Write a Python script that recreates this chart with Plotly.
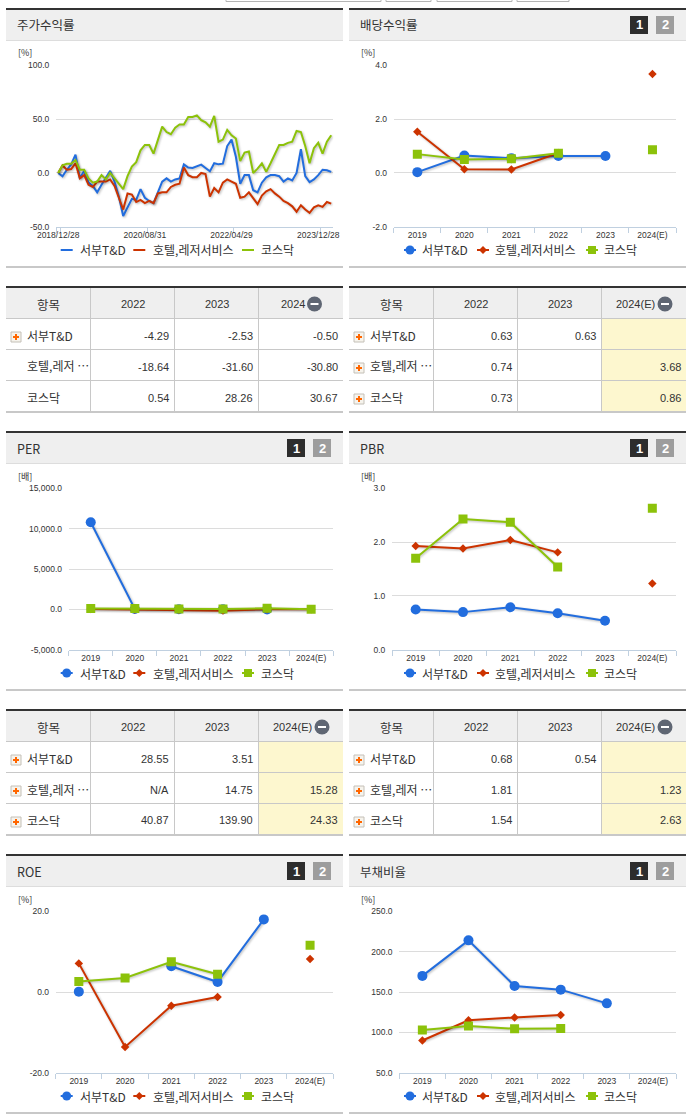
import plotly.graph_objects as go

W, H = 691, 1115
SANS = "Liberation Sans, Noto Sans CJK KR, sans-serif"
KR = "Noto Sans CJK KR, Liberation Sans, sans-serif"
BLUE, RED, GREEN = "#226dde", "#cc3300", "#8cc20a"
TXT = "#333333"

NAMES = ["서부T&D", "호텔,레저서비스", "코스닥"]
YEARS = ["2019", "2020", "2021", "2022", "2023", "2024(E)"]

# 주가수익률 (monthly, 2018/12 ~ 2024/03)
RET_BLUE = [0, -3, 3, 8, 17, -5, 2, -9, -12, -18, -11, -5, 2, -8, -22, -40, -32, -24, -25, -15,
            -23, -26, -28, -18, -8, -5, -8, -6, -5, 8, 5, 4.6, 6, 7.7, 4.6, 1.5, 9, 8, 8.6, 25,
            31, 15, -10, -2, -2, -16, -18, -9, -4, -2, -2, -3, -8, -5, -7, 0, 22, -3, -8.5, -6,
            -2, 3, 2.5, 1]
RET_RED = [0, 7, 3, 3.7, 9, -5, -2, -11, -13, -8, -8, -8, -6, -12, -23, -34, -19, -20, -27, -25,
           -28, -26, -28, -19, -18, -18, -13, -11, -10, 5, -2, -4, -4, 0, -1, -22, -14, -18, -9, -6,
           -8, -10, -23, -22, -18, -24, -29, -21, -17, -15, -19, -22, -26, -28, -31, -36, -30, -34, -37, -32,
           -30, -31.5, -27, -28.5]
RET_GREEN = [0, 7, 8.5, 8.5, 12, 3, 3, -5, -9, -8, -2, -6, 0, -5, -10, -15, -3, 6, 10, 21,
             26, 26, 18, 31, 43, 38, 36, 42, 45, 45, 52, 52, 53.5, 49, 47, 43, 53, 29, 31, 40,
             35, 32, 11, 19, 20, 0, 4, 9, 1, 9, 18, 26, 26, 28, 29, 39, 38, 25, 9, 23,
             28, 18, 29, 35]
RET_TICKS = [0, 20, 40, 60]
RET_LABELS = ["2018/12/28", "2020/08/31", "2022/04/29", "2023/12/28"]

DIV = [[0.03, 0.65, 0.55, 0.63, 0.63, None],
       [1.53, 0.14, 0.13, 0.74, None, 3.68],
       [0.70, 0.50, 0.53, 0.73, None, 0.86]]
PER = [[10800, 50, 30, 28.55, 3.51, None],
       [50, -20, -40, -150, 14.75, 15.28],
       [100, 100, 40, 40.87, 139.90, 24.33]]
PBR = [[0.75, 0.70, 0.79, 0.68, 0.54, None],
       [1.93, 1.88, 2.04, 1.81, None, 1.23],
       [1.70, 2.43, 2.37, 1.54, None, 2.63]]
ROE = [[0.1, None, 6.4, 2.5, 18.0, None],
       [7.1, -13.6, -3.4, -1.2, None, 8.2],
       [2.6, 3.5, 7.5, 4.4, None, 11.6]]
DEBT = [[170, 214, 157.5, 153, 136, None],
        [90, 115, 118.5, 121.5, None, None],
        [103, 108, 104.5, 105, None, None]]

T_RET = [["2022", "2023", "2024"], ["-4.29", "-2.53", "-0.50"], ["-18.64", "-31.60", "-30.80"], ["0.54", "28.26", "30.67"]]
T_DIV = [["2022", "2023", "2024(E)"], ["0.63", "0.63", ""], ["0.74", "", "3.68"], ["0.73", "", "0.86"]]
T_PER = [["2022", "2023", "2024(E)"], ["28.55", "3.51", ""], ["N/A", "14.75", "15.28"], ["40.87", "139.90", "24.33"]]
T_PBR = [["2022", "2023", "2024(E)"], ["0.68", "0.54", ""], ["1.81", "", "1.23"], ["1.54", "", "2.63"]]

fig = go.Figure()
shapes, annos = [], []
fx = lambda x: x / W
fy = lambda y: 1 - y / H


def rect(x0, y0, x1, y1, fill, line=None, kind="rect"):
    shapes.append(dict(type=kind, xref="paper", yref="paper", x0=fx(x0), x1=fx(x1), y0=fy(y0), y1=fy(y1),
                       fillcolor=fill, line=dict(color=line or fill, width=1 if line else 0)))


def text(x, y, s, size=12, color=TXT, anchor="left", font=KR, bold=False):
    annos.append(dict(xref="paper", yref="paper", x=fx(x), y=fy(y), text=f"<b>{s}</b>" if bold else s,
                      showarrow=False, xanchor=anchor, yanchor="middle", borderpad=0,
                      font=dict(size=size, color=color, family=font)))


def header(x0, top, title, buttons=True):
    rect(x0, top, x0 + 337, top + 2, "#333333")
    rect(x0, top + 2, x0 + 337, top + 32, "#efefef")
    rect(x0, top + 32, x0 + 337, top + 33, "#dddddd")
    text(x0 + 10, top + 17, title, size=12.5)
    if buttons:
        rect(x0 + 281, top + 8, x0 + 299, top + 26, "#2d2d2d")
        rect(x0 + 307, top + 8, x0 + 325, top + 26, "#9d9d9d")
        text(x0 + 290, top + 17, "1", size=13, color="#ffffff", anchor="center", font=SANS, bold=True)
        text(x0 + 316, top + 17, "2", size=13, color="#ffffff", anchor="center", font=SANS, bold=True)
    rect(x0, top + 258, x0 + 337, top + 260, "#c8c8c8")


def legend(x0, y, markers, positions):
    colors = [BLUE, RED, GREEN]
    for i, (cx, tx) in enumerate(positions):
        cx += x0
        tx += x0
        rect(cx - 6, y - 1, cx + 6, y + 1, colors[i])
        if markers:
            if i == 0:
                rect(cx - 4.5, y - 4.5, cx + 4.5, y + 4.5, colors[i], kind="circle")
            elif i == 1:
                shapes.append(dict(type="path", xref="paper", yref="paper", line=dict(width=0), fillcolor=colors[i],
                                   path=f"M{fx(cx-4)},{fy(y)}L{fx(cx)},{fy(y-4)}L{fx(cx+4)},{fy(y)}L{fx(cx)},{fy(y+4)}Z"))
            else:
                rect(cx - 4, y - 4, cx + 4, y + 4, colors[i])
        text(tx - 0.5, y, NAMES[i], size=12)


def table(x0, top, data, icons, shade, minus):
    cols = [84, 168, 252, 337]
    rect(x0, top, x0 + 337, top + 2, "#333333")
    rect(x0, top + 2, x0 + 337, top + 32, "#efefef")
    if shade:
        rect(x0 + 252, top + 32, x0 + 337, top + 125, "#fdf7cf")
    for ry in (32, 63, 94):
        rect(x0, top + ry, x0 + 337, top + ry + 1, "#c8c8c8")
    rect(x0, top + 125, x0 + 337, top + 127, "#c8c8c8")
    for c in cols[:3]:
        rect(x0 + c, top + 2, x0 + c + 1, top + 125, "#c8c8c8")
    text(x0 + 42, top + 18, "항목", size=12.5, anchor="center")
    centers = [127, 211, 286.5]
    for j, h in enumerate(data[0]):
        text(x0 + centers[j], top + 18, h, size=11, anchor="center", font=SANS)
    mx = x0 + minus
    rect(mx - 7.5, top + 10.5, mx + 7.5, top + 25.5, "#5f6673", kind="circle")
    rect(mx - 4, top + 17, mx + 4, top + 19, "#ffffff")
    labels = ["서부T&D", "호텔,레저 ⋯", "코스닥"]
    for r in range(3):
        ry = top + 33 + 31 * r
        if icons[r]:
            ix = x0 + 5
            rect(ix, ry + 13, ix + 10, ry + 23, "#f6f3ec", line="#c4c0b8")
            rect(ix + 2, ry + 17, ix + 8, ry + 19, "#ff6600")
            rect(ix + 4, ry + 15, ix + 6, ry + 21, "#ff6600")
        text(x0 + 19.5, ry + 16, labels[r], size=12)
        for j, v in enumerate(data[r + 1]):
            if v:
                text(x0 + [164, 248, 333][j], ry + 16.5, v, size=11, anchor="right", font=SANS)


def add_chart(n, series, x0, x1, top, y_vals, y_text, y_range):
    suffix = "" if n == 1 else str(n)
    colors = [BLUE, RED, GREEN]
    syms = ["circle", "diamond", "square"]
    for i, ys in enumerate(series):
        fig.add_trace(go.Scatter(x=YEARS, y=ys, mode="lines+markers", name=NAMES[i], showlegend=False,
                                 line=dict(color=colors[i], width=2), connectgaps=False,
                                 marker=dict(color=colors[i], symbol=syms[i], size=[10, 6.5, 9][i], line=dict(width=0)),
                                 xaxis="x" + suffix, yaxis="y" + suffix))
    style_axes(n, x0, x1, top, y_vals, y_text, y_range)
    fig.layout["xaxis" + suffix].update(type="category", categoryorder="array", categoryarray=YEARS,
                                        range=[-0.5, 5.5], tickson="boundaries", ticks="outside", ticklen=5,
                                        tickwidth=1, tickcolor="#c0d0e0")


def style_axes(n, x0, x1, top, y_vals, y_text, y_range):
    suffix = "" if n == 1 else str(n)
    y0, y1 = top, top + 161.5
    fig.update_layout({
        "xaxis" + suffix: dict(domain=[fx(x0), fx(x1)], anchor="y" + suffix, showgrid=False, zeroline=False,
                               showline=True, linecolor="#c0d0e0", linewidth=1, automargin=False,
                               tickfont=dict(size=8.5, color=TXT, family=SANS), fixedrange=True),
        "yaxis" + suffix: dict(domain=[fy(y1), fy(y0)], anchor="x" + suffix, range=y_range, tickmode="array",
                               tickvals=y_vals, ticktext=y_text, showgrid=True, gridcolor="#dcdcdc", gridwidth=1,
                               zeroline=False, showline=False, ticks="outside", ticklen=4, automargin=False,
                               tickcolor="rgba(0,0,0,0)", tickfont=dict(size=8.5, color=TXT, family=SANS),
                               fixedrange=True),
    })


LEFT, RIGHT = 6, 349
POS_L = [(66.7 - 6, 79 - 6), (139.3 - 6, 152 - 6), (248 - 6, 260 - 6)]
POS_R = [(410 - 349, 421.7 - 349), (483 - 349, 494 - 349), (592 - 349, 603 - 349)]

# 주가수익률
x_idx = list(range(len(RET_BLUE)))
for ys, c, name in zip([RET_BLUE, RET_RED, RET_GREEN], [BLUE, RED, GREEN], NAMES):
    fig.add_trace(go.Scatter(x=x_idx, y=ys, mode="lines", name=name, showlegend=False,
                             line=dict(color=c, width=2), xaxis="x", yaxis="y"))
style_axes(1, 56, 333.4, 65.3, [-50, 0, 50, 100], ["-50.0", "0.0", "50.0", "100.0"], [-50, 100])
fig.layout.xaxis.update(range=[-0.5, 63.5], tickmode="array", tickvals=RET_TICKS, ticktext=RET_LABELS,
                        ticks="", ticklen=5,
                        minor=dict(tickmode="array", tickvals=[-0.5, 0.5, 20.5, 40.5, 60.5], ticks="outside",
                                   ticklen=5, tickwidth=1, tickcolor="#c0d0e0"))

add_chart(2, DIV, 393.8, 676, 65.3, [-2, 0, 2, 4], ["-2.0", "0.0", "2.0", "4.0"], [-2, 4])
add_chart(3, PER, 68.7, 333.2, 488.3, [-5000, 0, 5000, 10000, 15000],
          ["-5,000.0", "0.0", "5,000.0", "10,000.0", "15,000.0"], [-5000, 15000])
add_chart(4, PBR, 392, 676, 488.3, [0, 1, 2, 3], ["0.0", "1.0", "2.0", "3.0"], [0, 3])
add_chart(5, ROE, 55.7, 333.2, 911.3, [-20, 0, 20], ["-20.0", "0.0", "20.0"], [-20, 20])
add_chart(6, DEBT, 399.3, 676, 911.3, [50, 100, 150, 200, 250],
          ["50.0", "100.0", "150.0", "200.0", "250.0"], [50, 250])

# panels
for dy, (lt, rt, lu, ru) in zip([0, 423, 846], [("주가수익률", "배당수익률", "[%]", "[%]"),
                                                ("PER", "PBR", "[배]", "[배]"),
                                                ("ROE", "부채비율", "[%]", "[%]")]):
    header(LEFT, 8 + dy, lt, buttons=dy > 0)
    header(RIGHT, 8 + dy, rt)
    text(17, 53 + dy, lu, size=9)
    text(360, 53 + dy, ru, size=9)
    legend(LEFT, 250 + dy, dy > 0, POS_L)
    legend(RIGHT, 250 + dy, True, POS_R)

table(LEFT, 286, T_RET, [True, False, False], False, 308.5)
table(RIGHT, 286, T_DIV, [True, True, True], True, 316)
table(LEFT, 709, T_PER, [True, True, True], True, 316)
table(RIGHT, 709, T_PBR, [True, True, True], True, 316)

# cut-off page controls above the panels
for a, b in [(226, 381), (386, 431), (437, 512), (517, 569)]:
    shapes.append(dict(type="rect", xref="paper", yref="paper", x0=fx(a), x1=fx(b), y0=fy(1.5), y1=fy(-6),
                       fillcolor="#ffffff", line=dict(color="#b5b5b5", width=1)))

fig.update_layout(width=W, height=H, margin=dict(l=0, r=0, t=0, b=0), paper_bgcolor="#ffffff",
                  plot_bgcolor="#ffffff", showlegend=False, shapes=shapes, annotations=annos,
                  font=dict(family=SANS, color=TXT), hovermode=False)

post = """
document.body.style.margin='0';
document.documentElement.style.overflow='hidden';
var s=document.createElement('style');
s.textContent='.js-line{filter:drop-shadow(1px 1px 1px rgba(0,0,0,.28));}';
document.head.appendChild(s);
"""
fig.write_html("out.html", config={"displayModeBar": False, "responsive": False}, post_script=post)
